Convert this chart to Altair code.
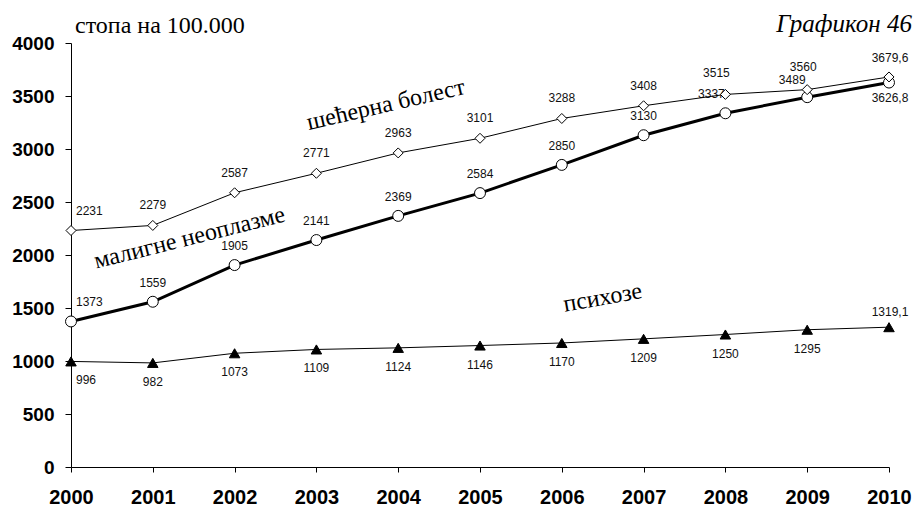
import altair as alt
import pandas as pd

years = list(range(2000, 2011))
diabetes = [2231, 2279, 2587, 2771, 2963, 3101, 3288, 3408, 3515, 3560, 3679.6]
neoplasm = [1373, 1559, 1905, 2141, 2369, 2584, 2850, 3130, 3337, 3489, 3626.8]
psychosis = [996, 982, 1073, 1109, 1124, 1146, 1170, 1209, 1250, 1295, 1319.1]

series_names = ["шећерна болест", "малигне неоплазме", "психозе"]
ann_year = [2003.85, 2001.45, 2006.5]
ann_value = [3415, 2160, 1594]
ann_angle = [347, 346, 350]

left_title = "стопа на 100.000"
right_title = "Графикон 46"


def lab(v):
    return str(int(v)) if float(v).is_integer() else str(v).replace(".", ",")


def frame(vals):
    return pd.DataFrame({"year": years, "value": vals, "label": [lab(v) for v in vals]})


X = alt.X("year:Q", scale=alt.Scale(domain=[2000, 2010], nice=False, zero=False),
          axis=alt.Axis(values=years, format="d", title=None, grid=False,
                        labelFontSize=20, labelFontWeight="bold", labelFont="Liberation Sans",
                        labelPadding=15, tickSize=5, labelFlush=False))
Y = alt.Y("value:Q", scale=alt.Scale(domain=[0, 4000], nice=False),
          axis=alt.Axis(values=list(range(0, 4001, 500)), format="d", title=None, grid=False,
                        labelFontSize=19, labelFontWeight="bold", labelFont="Liberation Sans",
                        labelPadding=11, tickSize=6))

layers = []


def text_layer(df, dy, dx=0, align="center"):
    return alt.Chart(df).mark_text(font="Liberation Sans", fontSize=12, color="#111",
                                   dy=dy, dx=dx, align=align).encode(x=X, y=Y, text="label:N")


def series(vals, width, shape, size, filled, label_dy, last_dy, shifts):
    df = frame(vals)
    base = alt.Chart(df)
    line = base.mark_line(color="black", strokeWidth=width).encode(x=X, y=Y)
    pts = base.mark_point(shape=shape, size=size, filled=True,
                          fill="black" if filled else "white",
                          stroke="black", strokeWidth=1, opacity=1).encode(x=X, y=Y)
    out = [line, pts]
    plain = df[(df.year > 2000) & (df.year < 2010) & (~df.year.isin(list(shifts)))]
    out.append(text_layer(plain, label_dy))
    out.append(text_layer(df[df.year == 2000], label_dy, 5, "left"))
    out.append(text_layer(df[df.year == 2010], last_dy, 1))
    for yr, (dx, dy) in shifts.items():
        out.append(text_layer(df[df.year == yr], dy, dx))
    return out


layers += series(psychosis, 1, "triangle-up", 110, True, 19, -15, {})
layers += series(neoplasm, 3, "circle", 120, False, -19, 15,
                 {2008: (-14, -19), 2009: (-15, -17)})
layers += series(diabetes, 1, "diamond", 100, False, -20, -19,
                 {2008: (-9, -21), 2009: (-4, -23)})

ann = pd.DataFrame({"year": ann_year, "value": ann_value, "name": series_names})
for i in range(3):
    layers.append(alt.Chart(ann.iloc[[i]]).mark_text(
        font="Liberation Serif", fontSize=24, color="black", angle=ann_angle[i]
    ).encode(x=X, y=Y, text="name:N"))

layers.append(alt.Chart(pd.DataFrame({"t": [left_title]})).mark_text(
    font="Liberation Serif", fontSize=24, align="left", baseline="alphabetic", color="black"
).encode(x=alt.value(4), y=alt.value(-10), text="t:N"))
layers.append(alt.Chart(pd.DataFrame({"t": [right_title]})).mark_text(
    font="Liberation Serif", fontSize=25, fontStyle="italic", align="right",
    baseline="alphabetic", color="black"
).encode(x=alt.value(841), y=alt.value(-11), text="t:N"))

chart = alt.layer(*layers).properties(
    width=818, height=424,
    padding={"left": 63, "top": 35, "right": 25, "bottom": 39},
    autosize=alt.AutoSizeParams(type="none"),
).configure_view(stroke=None).configure_axis(
    domainColor="black", tickColor="black", labelColor="black", domainWidth=1
)

chart.save("out.html", embed_options={"renderer": "svg", "actions": False})
